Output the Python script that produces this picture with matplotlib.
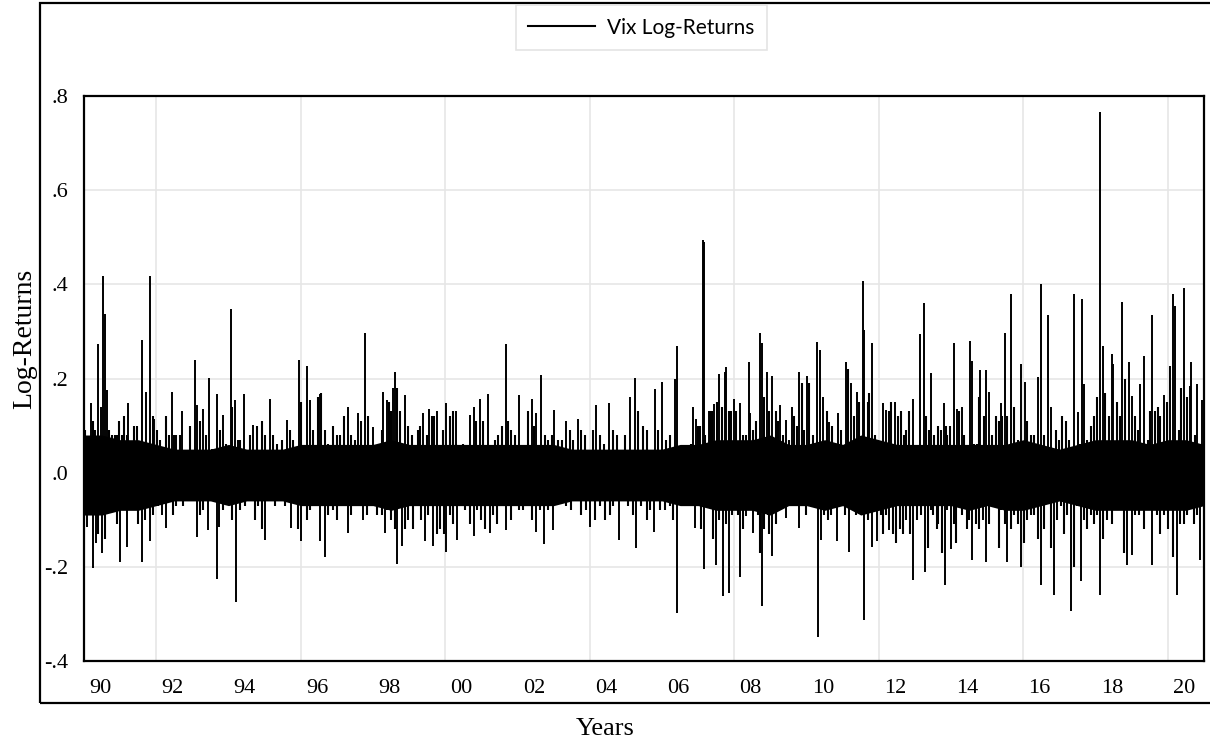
import numpy as np
import matplotlib
matplotlib.use('Agg')
import matplotlib.pyplot as plt
from matplotlib.lines import Line2D
from matplotlib.patches import Rectangle

# Solid core of the daily VIX log-returns, half-yearly edges
core_years = np.arange(1990.0, 2021.01, 0.5)
core_hi = [0.08, 0.08, 0.07, 0.07, 0.06, 0.05, 0.05, 0.05, 0.06, 0.05,
           0.05, 0.05, 0.06, 0.06, 0.06, 0.06, 0.06, 0.07, 0.06, 0.06,
           0.06, 0.06, 0.06, 0.06, 0.06, 0.06, 0.06, 0.05, 0.05, 0.05,
           0.05, 0.05, 0.05, 0.06, 0.06, 0.07, 0.07, 0.07, 0.08, 0.06,
           0.06, 0.07, 0.06, 0.08, 0.07, 0.06, 0.06, 0.06, 0.06, 0.06,
           0.06, 0.06, 0.07, 0.06, 0.05, 0.06, 0.07, 0.07, 0.07, 0.06,
           0.07, 0.07, 0.06]
core_lo = [-0.09, -0.09, -0.08, -0.08, -0.07, -0.06, -0.06, -0.06, -0.07, -0.06,
           -0.06, -0.06, -0.07, -0.07, -0.07, -0.07, -0.07, -0.08, -0.07, -0.07,
           -0.07, -0.07, -0.07, -0.07, -0.07, -0.07, -0.07, -0.06, -0.06, -0.06,
           -0.06, -0.06, -0.06, -0.07, -0.07, -0.08, -0.08, -0.08, -0.09, -0.07,
           -0.07, -0.08, -0.07, -0.09, -0.08, -0.07, -0.07, -0.07, -0.07, -0.08,
           -0.07, -0.08, -0.08, -0.07, -0.06, -0.07, -0.08, -0.08, -0.08, -0.08,
           -0.08, -0.08, -0.07]

# Tall spikes (year, log-return)
spike_up_years = [1990.01, 1990.19, 1990.40, 1990.46, 1990.52, 1990.58, 1990.63, 1991.23,
                  1991.60, 1991.72, 1991.83, 1991.94, 1992.43, 1992.70, 1993.07, 1993.12,
                  1993.30, 1993.46, 1993.67, 1993.84, 1994.06, 1994.19, 1994.43, 1994.68,
                  1995.15, 1995.61, 1995.95, 1996.16, 1996.25, 1996.53, 1997.31, 1997.59,
                  1997.79, 1998.00, 1998.28, 1998.39, 1998.56, 1998.60, 1998.88, 1999.39,
                  1999.55, 1999.76, 2000.03, 2000.29, 2000.68, 2000.80, 2000.96, 2001.17,
                  2001.67, 2002.04, 2002.39, 2002.52, 2002.65, 2003.01, 2003.34, 2003.68,
                  2004.17, 2004.53, 2005.12, 2005.25, 2005.80, 2006.01, 2006.35, 2006.40,
                  2006.87, 2006.93, 2007.13, 2007.15, 2007.29, 2007.45, 2007.57, 2007.73,
                  2007.77, 2008.00, 2008.16, 2008.40, 2008.44, 2008.71, 2008.77, 2008.90,
                  2009.05, 2009.27, 2009.43, 2009.60, 2009.80, 2010.01, 2010.29, 2010.36,
                  2010.45, 2010.63, 2010.86, 2011.08, 2011.23, 2011.39, 2011.55, 2011.60,
                  2011.81, 2012.11, 2012.20, 2012.44, 2012.94, 2013.13, 2013.24, 2013.45,
                  2013.79, 2014.08, 2014.16, 2014.29, 2014.53, 2014.59, 2014.80, 2014.96,
                  2015.05, 2015.37, 2015.49, 2015.66, 2015.93, 2016.05, 2016.41, 2016.48,
                  2016.68, 2016.77, 2017.40, 2017.50, 2017.62, 2017.68, 2018.11, 2018.21,
                  2018.44, 2018.49, 2018.74, 2018.92, 2019.01, 2019.24, 2019.35, 2019.56,
                  2019.89, 2020.05, 2020.14, 2020.21, 2020.44, 2020.62, 2020.65, 2020.81,
                  2020.94]
spike_up_vals = [0.172, 0.147, 0.273, 0.140, 0.418, 0.338, 0.175, 0.149,
                 0.281, 0.172, 0.418, 0.115, 0.172, 0.131, 0.239, 0.144,
                 0.135, 0.202, 0.168, 0.122, 0.348, 0.154, 0.168, 0.101,
                 0.156, 0.112, 0.239, 0.227, 0.154, 0.168, 0.139, 0.126,
                 0.297, 0.098, 0.172, 0.154, 0.179, 0.214, 0.165, 0.127,
                 0.135, 0.132, 0.149, 0.132, 0.122, 0.140, 0.156, 0.168,
                 0.273, 0.165, 0.156, 0.126, 0.207, 0.134, 0.110, 0.115,
                 0.144, 0.149, 0.160, 0.202, 0.177, 0.193, 0.198, 0.269,
                 0.140, 0.115, 0.494, 0.490, 0.130, 0.146, 0.209, 0.214,
                 0.225, 0.156, 0.147, 0.236, 0.126, 0.297, 0.275, 0.214,
                 0.205, 0.144, 0.112, 0.139, 0.214, 0.205, 0.277, 0.260,
                 0.161, 0.108, 0.126, 0.236, 0.190, 0.172, 0.407, 0.303,
                 0.275, 0.147, 0.133, 0.151, 0.156, 0.294, 0.360, 0.211,
                 0.147, 0.275, 0.136, 0.140, 0.279, 0.238, 0.217, 0.218,
                 0.171, 0.147, 0.296, 0.380, 0.230, 0.192, 0.204, 0.400,
                 0.334, 0.140, 0.380, 0.128, 0.368, 0.189, 0.766, 0.268,
                 0.251, 0.230, 0.362, 0.234, 0.162, 0.189, 0.247, 0.334,
                 0.166, 0.226, 0.380, 0.355, 0.392, 0.185, 0.234, 0.189,
                 0.155]

spike_down_years = [1990.07, 1990.24, 1990.33, 1990.51, 1991.00, 1991.18, 1991.60, 1991.83,
                    1992.15, 1992.27, 1993.12, 1993.44, 1993.67, 1993.74, 1994.22, 1995.01,
                    1995.72, 1996.02, 1996.53, 1996.67, 1997.31, 1997.73, 1998.33, 1998.67,
                    1998.79, 1999.43, 1999.67, 2000.03, 2000.33, 2000.80, 2001.23, 2001.69,
                    2002.52, 2002.74, 2002.97, 2004.00, 2004.81, 2005.29, 2005.78, 2006.42,
                    2006.90, 2007.15, 2007.48, 2007.68, 2007.85, 2008.17, 2008.33, 2008.51,
                    2008.77, 2009.05, 2009.43, 2009.80, 2010.31, 2010.40, 2010.84, 2011.17,
                    2011.60, 2011.81, 2011.94, 2012.27, 2012.94, 2013.27, 2013.83, 2013.99,
                    2014.59, 2014.96, 2015.56, 2015.94, 2016.48, 2016.85, 2017.31, 2017.60,
                    2018.12, 2018.87, 2019.01, 2019.56, 2020.24, 2020.88]
spike_down_vals = [-0.115, -0.202, -0.150, -0.171, -0.189, -0.157, -0.189, -0.146,
                   -0.090, -0.118, -0.136, -0.122, -0.226, -0.115, -0.274, -0.143,
                   -0.118, -0.146, -0.146, -0.180, -0.129, -0.100, -0.129, -0.193,
                   -0.155, -0.146, -0.155, -0.168, -0.143, -0.134, -0.129, -0.122,
                   -0.125, -0.151, -0.122, -0.115, -0.143, -0.159, -0.125, -0.299,
                   -0.118, -0.205, -0.196, -0.263, -0.256, -0.222, -0.093, -0.129,
                   -0.284, -0.178, -0.097, -0.118, -0.348, -0.143, -0.146, -0.168,
                   -0.313, -0.157, -0.146, -0.122, -0.228, -0.210, -0.238, -0.162,
                   -0.185, -0.189, -0.189, -0.200, -0.238, -0.260, -0.294, -0.230,
                   -0.259, -0.196, -0.174, -0.196, -0.260, -0.185]

# Shorter lines around the core (year, log-return)
fringe_up = [
    (1990.03, 0.09), (1990.12, 0.05), (1990.26, 0.11), (1990.30, 0.09), (1990.70, 0.09),
    (1990.77, 0.08), (1990.86, 0.08), (1990.90, 0.08), (1990.98, 0.11), (1991.04, 0.08),
    (1991.11, 0.12), (1991.18, 0.08), (1991.38, 0.10), (1991.46, 0.10), (1991.53, 0.06),
    (1991.90, 0.12), (1992.03, 0.09), (1992.10, 0.07), (1992.27, 0.12), (1992.36, 0.08),
    (1992.49, 0.08), (1992.56, 0.08), (1992.66, 0.08), (1992.79, 0.04), (1992.93, 0.10),
    (1993.21, 0.11), (1993.39, 0.08), (1993.53, 0.05), (1993.76, 0.09), (1993.93, 0.06),
    (1994.11, 0.14), (1994.27, 0.07), (1994.33, 0.07), (1994.50, 0.04), (1994.59, 0.08),
    (1994.78, 0.10), (1994.92, 0.11), (1995.01, 0.08), (1995.24, 0.08), (1995.33, 0.06),
    (1995.47, 0.07), (1995.70, 0.09), (1995.79, 0.07), (1996.02, 0.15), (1996.34, 0.09),
    (1996.48, 0.16), (1996.57, 0.17), (1996.67, 0.09), (1996.76, 0.06), (1996.90, 0.10),
    (1996.99, 0.08), (1997.08, 0.08), (1997.20, 0.12), (1997.40, 0.08), (1997.50, 0.07),
    (1997.68, 0.11), (1997.87, 0.12), (1998.10, 0.05), (1998.24, 0.09), (1998.45, 0.15),
    (1998.51, 0.13), (1998.65, 0.18), (1998.74, 0.13), (1998.97, 0.10), (1999.07, 0.08),
    (1999.25, 0.09), (1999.31, 0.10), (1999.48, 0.08), (1999.62, 0.12), (1999.68, 0.12),
    (1999.94, 0.09), (2000.13, 0.12), (2000.22, 0.13), (2000.31, 0.06), (2000.48, 0.06),
    (2000.86, 0.11), (2001.05, 0.11), (2001.37, 0.07), (2001.46, 0.08), (2001.56, 0.10),
    (2001.74, 0.11), (2001.83, 0.09), (2001.92, 0.08), (2002.29, 0.13), (2002.45, 0.10),
    (2002.75, 0.08), (2002.85, 0.07), (2002.94, 0.08), (2003.12, 0.07), (2003.22, 0.07),
    (2003.45, 0.09), (2003.54, 0.07), (2003.77, 0.09), (2003.86, 0.08), (2004.09, 0.09),
    (2004.28, 0.08), (2004.39, 0.06), (2004.64, 0.09), (2004.74, 0.08), (2004.97, 0.08),
    (2005.34, 0.13), (2005.47, 0.10), (2005.57, 0.09), (2005.89, 0.09), (2006.10, 0.07),
    (2006.21, 0.08), (2006.81, 0.06), (2006.99, 0.10), (2007.04, 0.10), (2007.20, 0.08),
    (2007.33, 0.13), (2007.39, 0.13), (2007.52, 0.15), (2007.66, 0.14), (2007.85, 0.13),
    (2007.91, 0.13), (2008.05, 0.13), (2008.24, 0.08), (2008.33, 0.08), (2008.51, 0.09),
    (2008.60, 0.11), (2008.83, 0.16), (2008.97, 0.13), (2009.14, 0.13), (2009.20, 0.11),
    (2009.34, 0.08), (2009.51, 0.07), (2009.66, 0.12), (2009.73, 0.10), (2009.87, 0.19),
    (2009.94, 0.09), (2010.08, 0.19), (2010.17, 0.08), (2010.56, 0.13), (2010.71, 0.10),
    (2010.77, 0.05), (2010.96, 0.09), (2011.14, 0.22), (2011.32, 0.12), (2011.46, 0.15),
    (2011.69, 0.15), (2011.74, 0.17), (2011.88, 0.08), (2011.97, 0.07), (2012.27, 0.13),
    (2012.35, 0.15), (2012.53, 0.12), (2012.62, 0.13), (2012.69, 0.08), (2012.76, 0.09),
    (2012.83, 0.13), (2013.04, 0.05), (2013.31, 0.12), (2013.39, 0.09), (2013.54, 0.08),
    (2013.64, 0.10), (2013.72, 0.09), (2013.85, 0.10), (2013.90, 0.08), (2013.97, 0.10),
    (2014.22, 0.13), (2014.36, 0.08), (2014.64, 0.06), (2014.71, 0.06), (2014.78, 0.16),
    (2014.90, 0.12), (2015.14, 0.08), (2015.24, 0.12), (2015.33, 0.11), (2015.42, 0.12),
    (2015.56, 0.12), (2015.74, 0.14), (2015.85, 0.07), (2016.11, 0.11), (2016.20, 0.08),
    (2016.29, 0.08), (2016.57, 0.08), (2016.89, 0.09), (2016.99, 0.07), (2017.08, 0.12),
    (2017.17, 0.11), (2017.26, 0.07), (2017.31, 0.05), (2017.57, 0.06), (2017.77, 0.07),
    (2017.86, 0.10), (2017.95, 0.12), (2018.04, 0.16), (2018.27, 0.17), (2018.37, 0.12),
    (2018.58, 0.15), (2018.67, 0.12), (2018.80, 0.20), (2019.08, 0.12), (2019.17, 0.09),
    (2019.44, 0.07), (2019.50, 0.13), (2019.63, 0.13), (2019.72, 0.14), (2019.79, 0.12),
    (2019.98, 0.15), (2020.30, 0.09), (2020.36, 0.18), (2020.53, 0.16), (2020.74, 0.08),
    (2020.88, 0.06)]

fringe_down = [
    (1990.00, -0.08), (1990.12, -0.07), (1990.40, -0.13), (1990.58, -0.14), (1990.67, -0.06),
    (1990.77, -0.07), (1990.81, -0.08), (1990.90, -0.11), (1991.09, -0.08), (1991.27, -0.04),
    (1991.37, -0.06), (1991.50, -0.11), (1991.69, -0.10), (1991.92, -0.09), (1992.06, -0.07),
    (1992.36, -0.06), (1992.47, -0.09), (1992.56, -0.07), (1992.66, -0.06), (1992.75, -0.07),
    (1992.89, -0.04), (1992.98, -0.06), (1993.21, -0.09), (1993.30, -0.08), (1993.85, -0.08),
    (1993.99, -0.06), (1994.09, -0.10), (1994.32, -0.08), (1994.45, -0.07), (1994.55, -0.06),
    (1994.64, -0.05), (1994.73, -0.10), (1994.82, -0.07), (1994.92, -0.12), (1995.10, -0.05),
    (1995.19, -0.06), (1995.28, -0.07), (1995.42, -0.06), (1995.56, -0.07), (1995.84, -0.06),
    (1995.93, -0.12), (1996.16, -0.10), (1996.25, -0.08), (1996.34, -0.07), (1996.76, -0.09),
    (1996.90, -0.08), (1996.99, -0.10), (1997.08, -0.07), (1997.17, -0.05), (1997.40, -0.09),
    (1997.54, -0.07), (1997.82, -0.09), (1997.96, -0.06), (1998.10, -0.09), (1998.24, -0.09),
    (1998.39, -0.08), (1998.51, -0.10), (1998.60, -0.12), (1998.88, -0.12), (1998.97, -0.10),
    (1999.11, -0.12), (1999.25, -0.07), (1999.34, -0.10), (1999.53, -0.09), (1999.76, -0.13),
    (1999.85, -0.12), (1999.96, -0.13), (2000.13, -0.09), (2000.22, -0.11), (2000.45, -0.06),
    (2000.54, -0.08), (2000.68, -0.11), (2000.88, -0.08), (2001.00, -0.10), (2001.09, -0.12),
    (2001.32, -0.09), (2001.42, -0.11), (2001.56, -0.05), (2001.83, -0.10), (2001.92, -0.05),
    (2002.04, -0.08), (2002.14, -0.08), (2002.25, -0.07), (2002.39, -0.10), (2002.63, -0.08),
    (2002.85, -0.08), (2003.22, -0.06), (2003.35, -0.07), (2003.49, -0.08), (2003.63, -0.04),
    (2003.77, -0.09), (2003.89, -0.08), (2004.14, -0.10), (2004.28, -0.07), (2004.41, -0.10),
    (2004.55, -0.09), (2004.64, -0.07), (2004.92, -0.04), (2005.06, -0.07), (2005.20, -0.09),
    (2005.43, -0.07), (2005.57, -0.10), (2005.66, -0.08), (2005.94, -0.08), (2006.07, -0.08),
    (2006.21, -0.07), (2006.30, -0.10), (2006.99, -0.06), (2007.08, -0.12), (2007.24, -0.06),
    (2007.36, -0.06), (2007.42, -0.14), (2007.57, -0.10), (2007.77, -0.11), (2007.94, -0.09),
    (2008.10, -0.09), (2008.24, -0.12), (2008.42, -0.07), (2008.59, -0.07), (2008.65, -0.09),
    (2008.71, -0.17), (2008.83, -0.12), (2008.93, -0.09), (2008.97, -0.13), (2009.16, -0.11),
    (2009.25, -0.06), (2009.34, -0.07), (2009.53, -0.06), (2009.71, -0.07), (2009.89, -0.06),
    (2009.99, -0.09), (2010.08, -0.07), (2010.49, -0.09), (2010.59, -0.10), (2010.68, -0.09),
    (2010.96, -0.07), (2011.05, -0.09), (2011.28, -0.07), (2011.37, -0.09), (2011.46, -0.08),
    (2011.69, -0.10), (2012.06, -0.09), (2012.11, -0.13), (2012.20, -0.09), (2012.39, -0.13),
    (2012.48, -0.15), (2012.58, -0.12), (2012.67, -0.13), (2012.76, -0.10), (2012.85, -0.13),
    (2013.06, -0.10), (2013.17, -0.09), (2013.36, -0.16), (2013.44, -0.08), (2013.51, -0.09),
    (2013.61, -0.12), (2013.64, -0.11), (2013.76, -0.17), (2013.90, -0.08), (2014.07, -0.11),
    (2014.13, -0.15), (2014.25, -0.07), (2014.31, -0.09), (2014.43, -0.12), (2014.50, -0.10),
    (2014.68, -0.11), (2014.78, -0.12), (2014.87, -0.10), (2015.05, -0.11), (2015.14, -0.07),
    (2015.24, -0.07), (2015.33, -0.16), (2015.39, -0.08), (2015.48, -0.11), (2015.65, -0.12),
    (2015.74, -0.09), (2015.85, -0.11), (2016.02, -0.15), (2016.11, -0.10), (2016.20, -0.09),
    (2016.29, -0.09), (2016.41, -0.14), (2016.57, -0.12), (2016.66, -0.06), (2016.76, -0.16),
    (2016.94, -0.10), (2017.03, -0.07), (2017.12, -0.13), (2017.22, -0.09), (2017.40, -0.20),
    (2017.49, -0.07), (2017.68, -0.10), (2017.77, -0.12), (2017.86, -0.09), (2017.95, -0.11),
    (2018.04, -0.09), (2018.21, -0.14), (2018.32, -0.10), (2018.46, -0.11), (2018.60, -0.07),
    (2018.73, -0.08), (2018.78, -0.17), (2019.10, -0.09), (2019.20, -0.09), (2019.33, -0.12),
    (2019.44, -0.06), (2019.70, -0.09), (2019.79, -0.13), (2019.89, -0.09), (2020.00, -0.12),
    (2020.14, -0.18), (2020.33, -0.11), (2020.44, -0.11), (2020.53, -0.09), (2020.62, -0.07),
    (2020.72, -0.11), (2020.81, -0.09)]

# Axis labels
x_tick_labels = ['90', '92', '94', '96', '98', '00', '02', '04',
                 '06', '08', '10', '12', '14', '16', '18', '20']
y_ticks = [-0.4, -0.2, 0.0, 0.2, 0.4, 0.6, 0.8]
y_tick_labels = ['-.4', '-.2', '.0', '.2', '.4', '.6', '.8']

serif = 'Liberation Serif'

fig = plt.figure(figsize=(12.1, 7.4), dpi=100)
ax = fig.add_axes([84 / 1210, 1 - 661 / 740, 1120 / 1210, 565 / 740])

# the series: solid core, then the short and the tall lines
ax.fill_between(core_years, core_lo, core_hi, color='black', lw=0, zorder=3)
fu_x, fu_y = zip(*fringe_up)
fd_x, fd_y = zip(*fringe_down)
ax.vlines(fu_x, 0, fu_y, color='black', lw=1.5, zorder=3)
ax.vlines(fd_x, 0, fd_y, color='black', lw=1.5, zorder=3)
ax.vlines(spike_up_years, 0, spike_up_vals, color='black', lw=1.4, zorder=3)
ax.vlines(spike_down_years, 0, spike_down_vals, color='black', lw=1.4, zorder=3)

ax.set_xlim(1990, 2021)
ax.set_ylim(-0.4, 0.8)

# labels sit in the middle of the year, grid lines every 4 years
ax.set_xticks(np.arange(1990, 2021, 2) + 0.45)
ax.set_xticklabels(x_tick_labels, fontfamily=serif, fontsize=16)
ax.set_xticks(np.arange(1992, 2021, 4), minor=True)
ax.set_yticks(y_ticks)
ax.set_yticklabels(y_tick_labels, fontfamily=serif, fontsize=16)
ax.tick_params(which='both', length=0)
ax.tick_params(axis='x', pad=13)
ax.tick_params(axis='y', pad=11)

ax.grid(which='minor', axis='x', color='#e6e6e6', lw=1.2, zorder=0)
ax.grid(which='major', axis='y', color='#e6e6e6', lw=1.2, zorder=0)
ax.set_axisbelow(True)
for s in ax.spines.values():
    s.set_linewidth(1.6)
    s.set_color('black')
    s.set_zorder(5)

fig.text(25 / 1210, 1 - 339 / 740, 'Log-Returns', rotation=90, ha='center', va='center',
         fontfamily=serif, fontsize=20)
fig.text(605 / 1210, 1 - 729 / 740, 'Years', ha='center', va='center',
         fontfamily=serif, fontsize=19)

# outer frame (its right side is cut off in the original)
fig.patches.append(Rectangle((40 / 1210, 1 - 703 / 740), 1.0, 700 / 740,
                             transform=fig.transFigure, fill=False,
                             edgecolor='black', lw=1.6))

handle = Line2D([], [], color='black', lw=1.5)
leg = fig.legend([handle], ['Vix Log-Returns'], loc='upper center',
                 bbox_to_anchor=(641.5 / 1210, 1 - 5 / 740), borderaxespad=0,
                 fancybox=False, handlelength=3.2, handletextpad=0.6,
                 borderpad=0.6, prop={'family': 'Lato', 'size': 15})
leg.get_frame().set_edgecolor('#dddddd')
leg.get_frame().set_linewidth(1.2)

plt.savefig('out.png', dpi=100)
